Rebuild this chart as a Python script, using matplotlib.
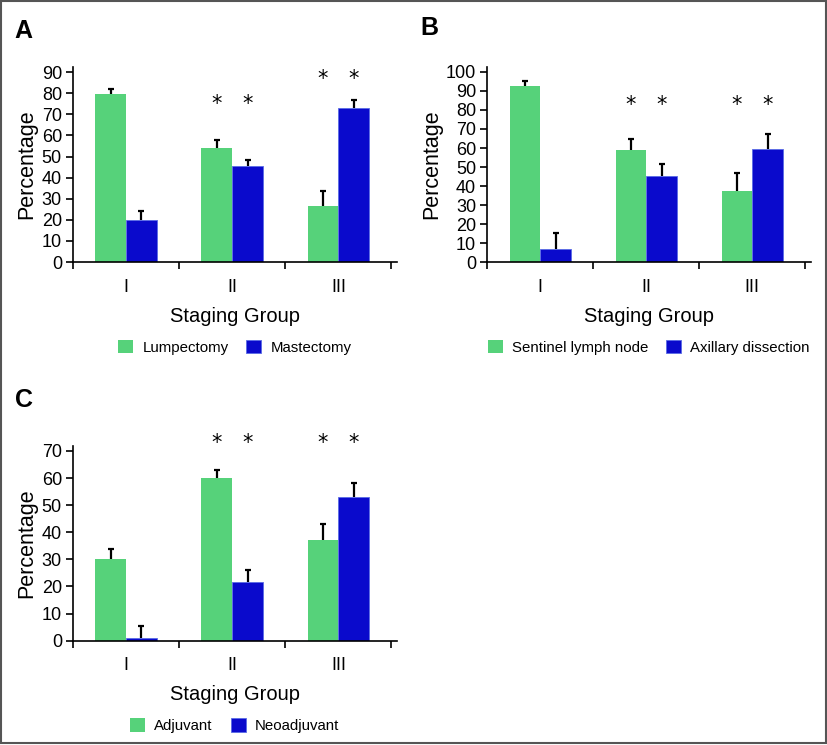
import matplotlib as mpl
import matplotlib.pyplot as plt
from matplotlib.patches import Rectangle

STAGES = ["I", "II", "III"]

# panel A
A_LABELS = ["Lumpectomy", "Mastectomy"]
A_GREEN = [79.6, 54.0, 26.4]
A_GREEN_ERR = [2.2, 3.6, 7.3]
A_BLUE = [19.9, 45.7, 73.1]
A_BLUE_ERR = [4.3, 2.6, 3.8]
A_STARS = [None, 75.0, 86.7]
A_TICKS = list(range(0, 91, 10))

# panel B
B_LABELS = ["Sentinel lymph node", "Axillary dissection"]
B_GREEN = [92.6, 59.2, 37.3]
B_GREEN_ERR = [2.4, 5.7, 9.6]
B_BLUE = [7.0, 45.3, 59.6]
B_BLUE_ERR = [8.3, 6.4, 7.9]
B_STARS = [None, 82.6, 82.6]
B_TICKS = list(range(0, 101, 10))

# panel C
C_LABELS = ["Adjuvant", "Neoadjuvant"]
C_GREEN = [30.1, 59.9, 37.1]
C_GREEN_ERR = [3.8, 3.2, 5.9]
C_BLUE = [0.9, 21.6, 53.0]
C_BLUE_ERR = [4.5, 4.4, 5.0]
C_STARS = [None, 73.0, 73.0]
C_TICKS = list(range(0, 71, 10))

GREEN = "#56D27A"
BLUE = "#0A0ACC"
WIDTH = 0.29

mpl.rcParams.update({"font.family": ["Liberation Sans", "DejaVu Sans"], "font.size": 11})


def upper_bars(ax, xs, vals, errs):
    tops = [v + e for v, e in zip(vals, errs)]
    ax.vlines(xs, vals, tops, color="black", linewidth=1.6, zorder=1)
    ax.plot(xs, tops, linestyle="none", marker="_", markersize=5, markeredgewidth=1.6, color="black", zorder=1)


def panel(fig, rect, letter, letter_xy, labels, green, green_err, blue, blue_err, stars, ticks, ytop):
    ax = fig.add_axes(rect)
    x = list(range(len(STAGES)))
    xg = [i - WIDTH / 2 for i in x]
    xb = [i + WIDTH / 2 for i in x]
    ax.bar(xg, green, WIDTH, color=GREEN, label=labels[0], zorder=2)
    ax.bar(xb, blue, WIDTH, color=BLUE, edgecolor="#5A6BE6", linewidth=0.6, label=labels[1], zorder=2)
    upper_bars(ax, xg, green, green_err)
    upper_bars(ax, xb, blue, blue_err)
    for i, s in enumerate(stars):
        if s is not None:
            for xx in (xg[i], xb[i]):
                ax.text(xx, s, "*", ha="center", va="center", fontsize=15, family="DejaVu Sans")
    ax.set_xlim(-0.5, 2.55)
    ax.set_ylim(0, ytop)
    ax.set_yticks(ticks)
    ax.set_xticks([-0.5, 0.5, 1.5, 2.5], ["", "", "", ""])
    ax.set_xticks(x, STAGES, minor=True)
    ax.tick_params(axis="x", which="major", length=5, width=1.2, direction="out")
    ax.tick_params(axis="x", which="minor", length=0, pad=12, labelsize=13)
    ax.tick_params(axis="y", length=5, width=1.2, pad=3, labelsize=13)
    for side in ("top", "right"):
        ax.spines[side].set_visible(False)
    ax.spines["left"].set_linewidth(1.2)
    ax.spines["bottom"].set_linewidth(1.2)
    ax.set_ylabel("Percentage", fontsize=15.5, labelpad=3)
    ax.set_xlabel("Staging Group", fontsize=14.5, labelpad=8)
    ax.legend(loc="upper center", bbox_to_anchor=(0.5, -0.33), ncol=2, frameon=False, fontsize=10.8,
              handlelength=1.0, handleheight=1.0, handletextpad=0.6, columnspacing=1.2)
    ax.text(*letter_xy, letter, transform=ax.transAxes, fontsize=18, fontweight="bold", ha="left", va="bottom")
    return ax


fig = plt.figure(figsize=(8.28, 7.45), dpi=100)
panel(fig, [0.0882, 0.6483, 0.391, 0.2617], "A", (-0.18, 1.124), A_LABELS, A_GREEN, A_GREEN_ERR, A_BLUE, A_BLUE_ERR, A_STARS, A_TICKS, 92.4)
panel(fig, [0.5885, 0.6483, 0.3906, 0.2617], "B", (-0.208, 1.14), B_LABELS, B_GREEN, B_GREEN_ERR, B_BLUE, B_BLUE_ERR, B_STARS, B_TICKS, 102.6)
panel(fig, [0.0882, 0.1400, 0.391, 0.2613], "C", (-0.18, 1.175), C_LABELS, C_GREEN, C_GREEN_ERR, C_BLUE, C_BLUE_ERR, C_STARS, C_TICKS, 71.8)
fig.patches.append(Rectangle((0.001, 0.003), 0.996, 0.996, transform=fig.transFigure, fill=False, edgecolor="#555555", linewidth=1.5))
fig.savefig("out.png", dpi=100)
